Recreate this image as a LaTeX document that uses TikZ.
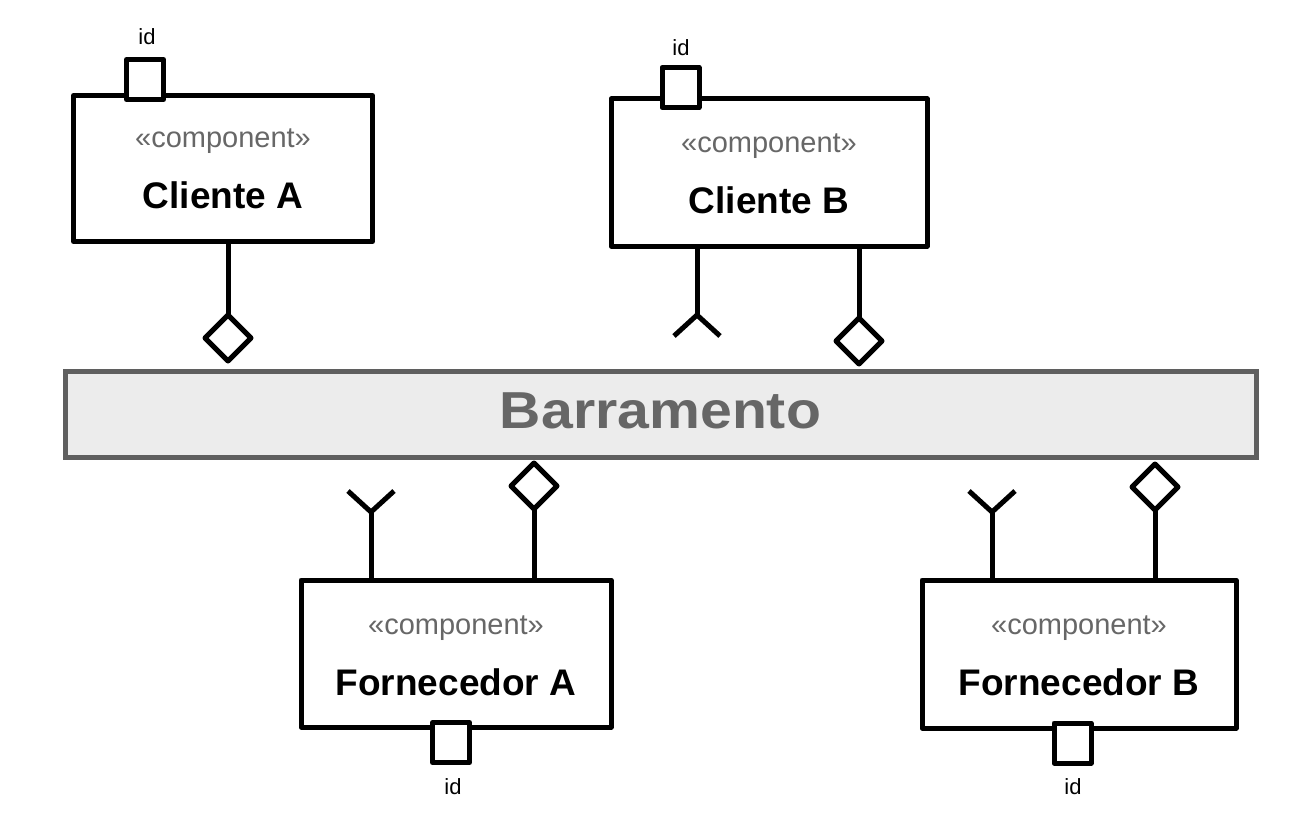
\documentclass[tikz,border=0pt]{standalone}
\usepackage{fontspec}
\setmainfont{Liberation Sans}
\usetikzlibrary{calc}
\usetikzlibrary{shapes.geometric}
\definecolor{busfill}{HTML}{ECECEC}
\definecolor{busdraw}{HTML}{5F5F5F}
\definecolor{stereogray}{HTML}{676767}
\definecolor{busgray}{HTML}{666666}
\newcommand{\fork}[2]{ \draw[conn] ($(#1)+(-23,#2*21)$) -- (#1) -- ($(#1)+(23,#2*21)$);}
\tikzset{
  comp/.style={draw, rectangle, line width=5pt, line join=round, fill=white, inner sep=0pt, outer sep=0pt},
  port/.style={draw, rectangle, line width=5pt, line join=round, fill=white, minimum width=37pt, minimum height=40pt, inner sep=0pt, outer sep=0pt},
  prov/.style={draw, diamond, line width=5pt, line join=round, fill=white, minimum width=46pt, minimum height=46pt, inner sep=0pt, outer sep=0pt},
  conn/.style={line width=5pt, line cap=butt},
  stereo/.style={text=stereogray, font=\fontsize{29}{34}\selectfont},
  cname/.style={font=\fontsize{37}{44}\selectfont\bfseries},
  idtext/.style={font=\fontsize{22}{26}\selectfont}
}

\begin{document}
\begin{tikzpicture}[x=1pt, y=-1pt]
        \useasboundingbox (0,0) rectangle (1305,824);

        % bus
        \node[draw=busdraw, fill=busfill, line width=5pt, inner sep=0pt, outer sep=0pt,
              minimum width=1191pt, minimum height=86pt, text depth=6pt, text=busgray,
              font=\fontsize{52}{62}\selectfont\bfseries] (bus) at (660.5,414) {\scalebox{1.1}[1]{Barramento}};

        % components
        \node[comp, minimum width=299pt, minimum height=146pt] (cA) at (223,168.5) {};
        \node[comp, minimum width=316pt, minimum height=147pt] (cB) at (769,172.5) {};
        \node[comp, minimum width=310pt, minimum height=147pt] (fA) at (456,653.5) {};
        \node[comp, minimum width=314pt, minimum height=148pt] (fB) at (1079,654) {};

        \node[stereo] (cAst) at ($(cA.north)+(0,46)$) {«component»};
        \node[cname] (cAname) at ($(cA.north)+(0,100)$) {Cliente A};
        \node[stereo] (cBst) at ($(cB.north)+(0,47)$) {«component»};
        \node[cname] (cBname) at ($(cB.north)+(0,101)$) {Cliente B};
        \node[stereo] (fAst) at ($(fA.north)+(0,48)$) {«component»};
        \node[cname] (fAname) at ($(fA.north)+(0,102)$) {Fornecedor A};
        \node[stereo] (fBst) at ($(fB.north)+(0,48)$) {«component»};
        \node[cname] (fBname) at ($(fB.north)+(0,102)$) {Fornecedor B};

        % ports
        \node[port] (pCA) at (145,79.5) {};
        \node[port] (pCB) at (680.5,87.5) {};
        \node[port] (pFA) at (451,742.5) {};
        \node[port] (pFB) at (1072.5,743) {};
        \node[idtext] (idCA) at (147,37) {id};
        \node[idtext] (idCB) at (681,48) {id};
        \node[idtext] (idFA) at (453,787) {id};
        \node[idtext] (idFB) at (1073,787) {id};

        % provided interfaces
        \node[prov] (dCA) at (228,338) {};
        \node[prov] (dCB) at (859,341) {};
        \node[prov] (dFA) at (534,486) {};
        \node[prov] (dFB) at (1155,487) {};
        \draw[conn] (dCA.north |- cA.south) -- (dCA.north);
        \draw[conn] (dCB.north |- cB.south) -- (dCB.north);
        \draw[conn] (dFA.south |- fA.north) -- (dFA.south);
        \draw[conn] (dFB.south |- fB.north) -- (dFB.south);

        % required interfaces
        \coordinate (rCB) at (697,315);
        \coordinate (rFA) at (371,512);
        \coordinate (rFB) at (992,512);
        \draw[conn] (rCB |- cB.south) -- (rCB);
        \draw[conn] (rFA |- fA.north) -- (rFA);
        \draw[conn] (rFB |- fB.north) -- (rFB);
        \fork{rCB}{1}
        \fork{rFA}{-1}
        \fork{rFB}{-1}
    \end{tikzpicture}
\end{document}
